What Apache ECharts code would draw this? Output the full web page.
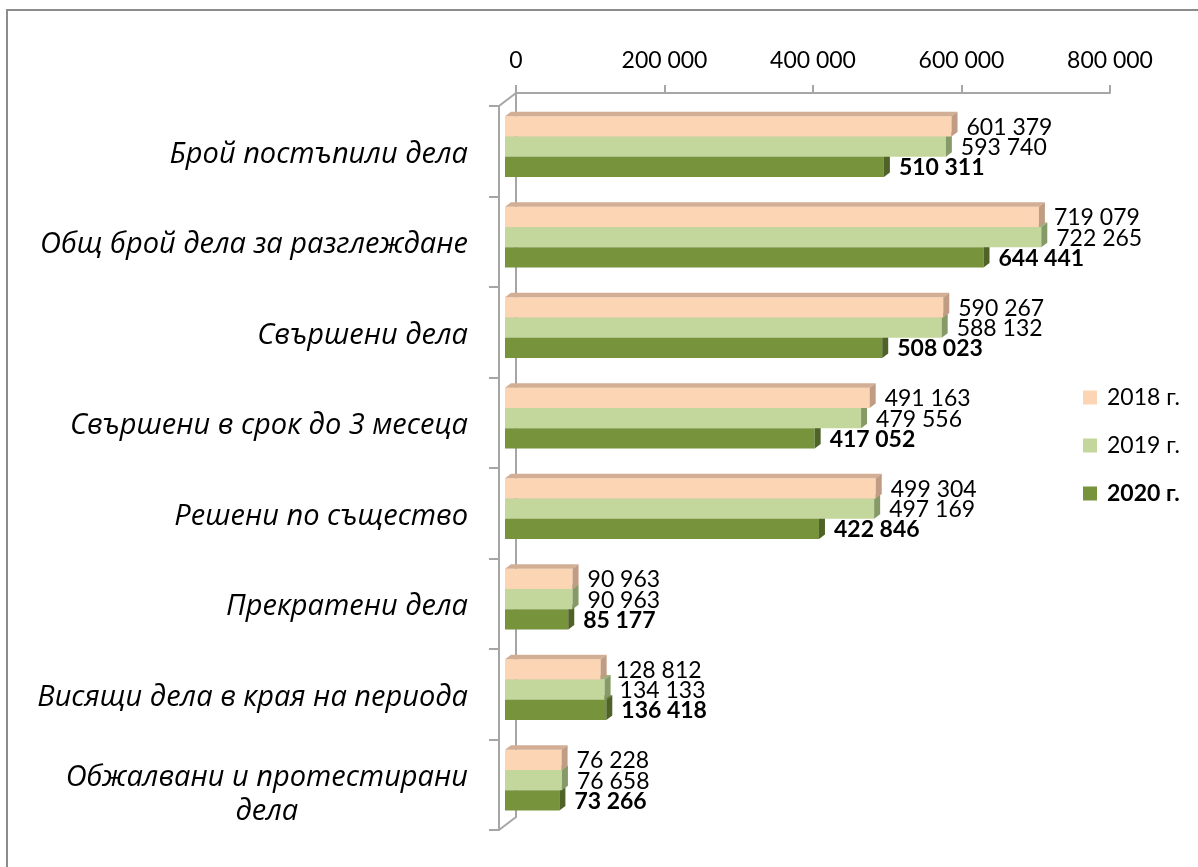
<!DOCTYPE html>
<html>
<head>
<meta charset="utf-8">
<script src="https://cdn.jsdelivr.net/npm/echarts@6/dist/echarts.min.js"></script>
<style>
  html, body { margin: 0; padding: 0; background: #fff; }
  #chart { width: 1198px; height: 867px; }
</style>
</head>
<body>
<div id="chart"></div>
<script>
// данни
var categories = [
  'Брой постъпили дела',
  'Общ брой дела за разглеждане',
  'Свършени дела',
  'Свършени в срок до 3 месеца',
  'Решени по същество',
  'Прекратени дела',
  'Висящи дела в края на периода',
  'Обжалвани и протестирани\nдела'
];
var years = ['2018 г.', '2019 г.', '2020 г.'];
var data2018 = [601379, 719079, 590267, 491163, 499304, 90963, 128812, 76228];
var data2019 = [593740, 722265, 588132, 479556, 497169, 90963, 134133, 76658];
var data2020 = [510311, 644441, 508023, 417052, 422846, 85177, 136418, 73266];
var xTicks = [0, 200000, 400000, 600000, 800000];

var colors = ['#FCD5B5', '#C3D69B', '#77933C'];
var topColors = ['#D2AE95', '#9DB07A', '#5B7330'];
var sideColors = ['#C09C84', '#869A68', '#4F6228'];
var axisColor = '#A6A6A6';

// 3D рамка
var BACK_LEFT = 516, BACK_TOP = 93, WALL_DX = 17, WALL_DY = 13;
var PLOT_W = 594, PLOT_H = 724;
var BAR_DX = 6, BAR_DY = 4.6;
var BAR_RATIO = 0.224;

function fmt(v) {
  return String(v).replace(/\B(?=(\d{3})+(?!\d))/g, ' ');
}

function makeRender(k) {
  return function (params, api) {
    var v = api.value(0), c = api.value(1);
    var p0 = api.coord([0, c]);
    var p1 = api.coord([v, c]);
    var band = api.size([0, 1])[1];
    var h = band * BAR_RATIO;
    var y = p0[1] - 1.5 * h + k * h;
    var x0 = p0[0], x1 = p1[0];
    return {
      type: 'group',
      children: [
        { type: 'rect', shape: { x: x0, y: y, width: x1 - x0, height: h }, style: { fill: colors[k] } },
        { type: 'polygon', shape: { points: [[x0, y], [x0 + BAR_DX, y - BAR_DY], [x1 + BAR_DX, y - BAR_DY], [x1, y]] },
          style: { fill: topColors[k] } },
        { type: 'polygon', shape: { points: [[x1, y], [x1 + BAR_DX, y - BAR_DY], [x1 + BAR_DX, y + h - BAR_DY], [x1, y + h]] },
          style: { fill: sideColors[k] } },
        { type: 'text',
          style: {
            text: fmt(v), x: x1 + BAR_DX + 9, y: y + h / 2 + 1,
            align: 'left', verticalAlign: 'middle',
            textAlign: 'left', textVerticalAlign: 'middle',
            fontFamily: 'Lato', fontSize: 23, fontWeight: k === 2 ? 'bold' : 'normal',
            fill: '#000'
          } }
      ]
    };
  };
}

var seriesData = [data2018, data2019, data2020];
var series = seriesData.map(function (arr, k) {
  return {
    name: years[k],
    type: 'custom',
    xAxisIndex: 2,
    yAxisIndex: 2,
    z: 5 - k,
    itemStyle: { color: colors[k] },
    renderItem: makeRender(k),
    encode: { x: 0, y: 1 },
    data: arr.map(function (v, i) { return [v, i]; })
  };
});

var labelFont = { fontFamily: 'Open Sans', fontStyle: 'italic', fontSize: 29, color: '#000', lineHeight: 34 };

// двуредовият надпис се сваля малко по-надолу
var catAxisData = categories.map(function (c) {
  return c.indexOf('\n') >= 0 ? { value: c, textStyle: { padding: [20, 0, 0, 0] } } : c;
});

var chart = echarts.init(document.getElementById('chart'), null, { renderer: 'canvas' });
chart.setOption({
  backgroundColor: '#fff',
  animation: false,
  graphic: [
    { type: 'rect', shape: { x: 7, y: 10, width: 1400, height: 1000 },
      style: { fill: 'none', stroke: '#8C8C8C', lineWidth: 2 }, silent: true },
    { type: 'line', shape: { x1: BACK_LEFT - WALL_DX, y1: BACK_TOP + WALL_DY, x2: BACK_LEFT, y2: BACK_TOP },
      style: { stroke: axisColor, lineWidth: 2 }, silent: true },
    { type: 'line', shape: { x1: BACK_LEFT - WALL_DX, y1: BACK_TOP + WALL_DY + PLOT_H, x2: BACK_LEFT, y2: BACK_TOP + PLOT_H },
      style: { stroke: axisColor, lineWidth: 2 }, silent: true }
  ],
  legend: {
    orient: 'vertical',
    left: 1078,
    top: 381,
    icon: 'rect',
    itemWidth: 14,
    itemHeight: 14,
    itemGap: 25,
    textStyle: { fontFamily: 'Lato', fontSize: 23, color: '#000', padding: [0, 0, 0, 5] },
    data: [
      { name: years[0] },
      { name: years[1] },
      { name: years[2], textStyle: { fontWeight: 'bold' } }
    ]
  },
  grid: [
    { left: BACK_LEFT, top: BACK_TOP, width: PLOT_W, height: PLOT_H },
    { left: BACK_LEFT - WALL_DX, top: BACK_TOP + WALL_DY, width: PLOT_W, height: PLOT_H },
    { left: BACK_LEFT - WALL_DX + BAR_DX, top: BACK_TOP + WALL_DY - BAR_DY, width: PLOT_W, height: PLOT_H }
  ],
  xAxis: [
    {
      gridIndex: 0, type: 'value', position: 'top',
      min: xTicks[0], max: xTicks[xTicks.length - 1], interval: xTicks[1] - xTicks[0],
      axisLine: { show: true, lineStyle: { color: axisColor, width: 2 } },
      axisTick: { show: true, length: 8, lineStyle: { color: axisColor, width: 2 } },
      splitLine: { show: false },
      axisLabel: { fontFamily: 'Lato', fontSize: 23, color: '#000', margin: 21, formatter: fmt }
    },
    { gridIndex: 1, type: 'value', show: false, min: xTicks[0], max: xTicks[xTicks.length - 1] },
    { gridIndex: 2, type: 'value', show: false, min: xTicks[0], max: xTicks[xTicks.length - 1] }
  ],
  yAxis: [
    {
      gridIndex: 0, type: 'category', inverse: true, data: categories,
      axisLine: { show: true, lineStyle: { color: axisColor, width: 2 } },
      axisTick: { show: false }, axisLabel: { show: false }
    },
    {
      gridIndex: 1, type: 'category', inverse: true, data: catAxisData,
      axisLine: { show: true, lineStyle: { color: axisColor, width: 2 } },
      axisTick: { show: true, length: 10, lineStyle: { color: axisColor, width: 2 } },
      axisLabel: {
        margin: 31,
        padding: [6, 0, 0, 0],
        fontFamily: 'Open Sans', fontStyle: 'italic', fontSize: 29, color: '#000', lineHeight: 34,
        formatter: function (val) {
          var lines = val.split('\n');
          if (lines.length === 1) return val;
          return lines.map(function (l, i) { return '{' + (i ? 'c' : 'a') + '|' + l + '}'; }).join('\n');
        },
        rich: {
          a: labelFont,
          c: Object.assign({ align: 'center' }, labelFont)
        }
      }
    },
    { gridIndex: 2, type: 'category', inverse: true, show: false, data: categories }
  ],
  series: series
});
</script>
</body>
</html>
